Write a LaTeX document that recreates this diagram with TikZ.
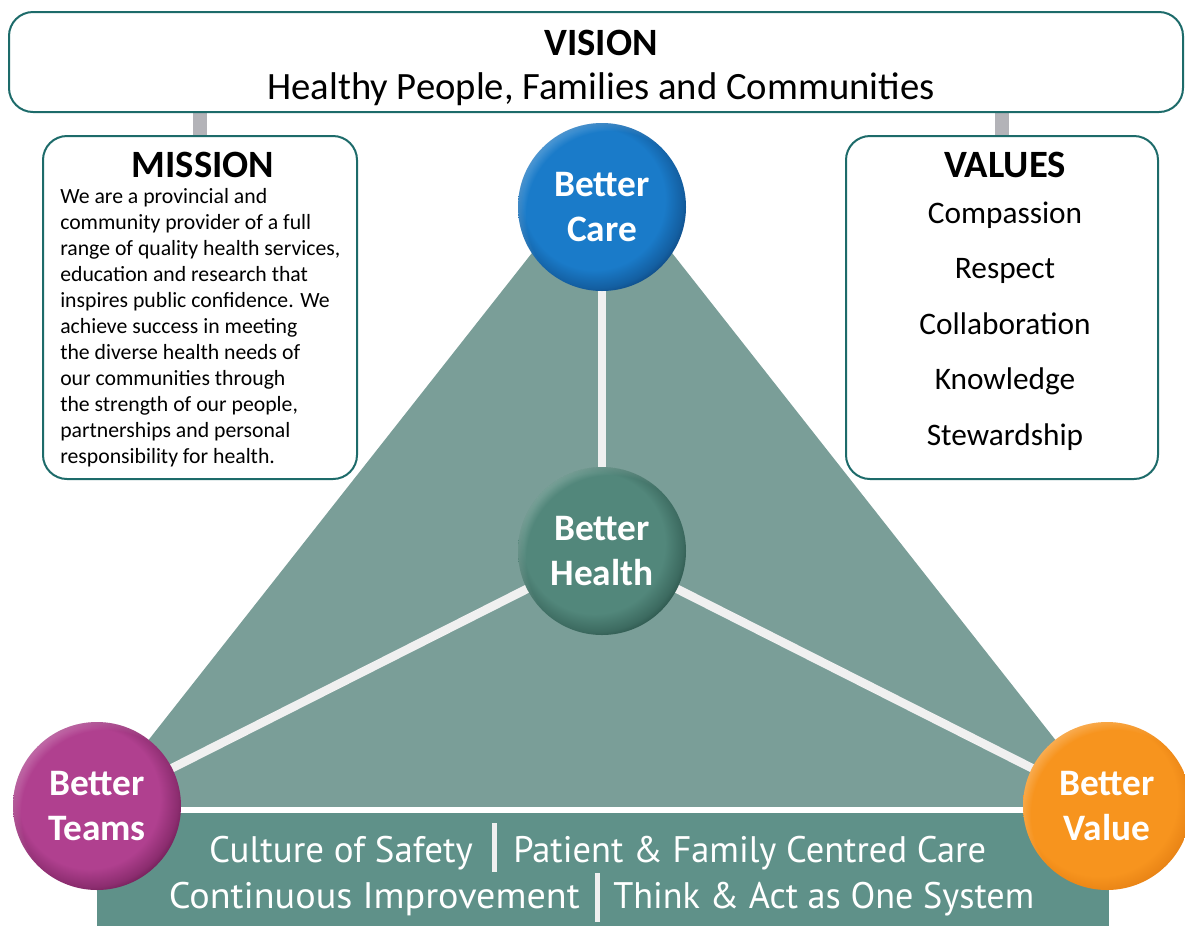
\documentclass[tikz,border=0pt]{standalone}
\usepackage{fontspec}
\setmainfont{Carlito}
\newfontfamily\bandfont{PT Sans}
\usetikzlibrary{fadings,backgrounds}
\definecolor{boxline}{HTML}{1D6B6A}
\definecolor{tri}{HTML}{7A9E98}
\definecolor{band}{HTML}{5F9189}
\definecolor{stub}{HTML}{B3B3B8}
\definecolor{spoke}{HTML}{F0F0F0}
\definecolor{careA}{HTML}{1A7BC9}
\definecolor{careD}{HTML}{0A3566}
\definecolor{healthA}{HTML}{52877B}
\definecolor{healthD}{HTML}{1C4038}
\definecolor{teamsA}{HTML}{B0408F}
\definecolor{teamsD}{HTML}{55103F}
\definecolor{valueA}{HTML}{F7941E}
\definecolor{valueD}{HTML}{E07A10}
\pgfdeclareradialshading{careS}{\pgfpoint{-4bp}{4bp}}{color(0bp)=(careA); color(21bp)=(careA); color(26bp)=(careA!60!careD); color(30bp)=(careD); color(50bp)=(careD)}
\pgfdeclareradialshading{healthS}{\pgfpoint{-4bp}{4bp}}{color(0bp)=(healthA); color(21bp)=(healthA); color(26bp)=(healthA!60!healthD); color(30bp)=(healthD); color(50bp)=(healthD)}
\pgfdeclareradialshading{teamsS}{\pgfpoint{-4bp}{4bp}}{color(0bp)=(teamsA); color(21bp)=(teamsA); color(26bp)=(teamsA!60!teamsD); color(30bp)=(teamsD); color(50bp)=(teamsD)}
\pgfdeclareradialshading{valueS}{\pgfpoint{-4bp}{4bp}}{color(0bp)=(valueA); color(23bp)=(valueA); color(30bp)=(valueD); color(50bp)=(valueD)}
\pgfdeclareradialshading{hlS}{\pgfpoint{5bp}{-5bp}}{color(0bp)=(black); color(25bp)=(black); color(31bp)=(black!55); color(50bp)=(black!55)}
\pgfdeclarefading{hlF}{\pgfuseshading{hlS}}
\begin{document}
\begin{tikzpicture}[x=0.75pt,y=-0.75pt,
  infobox/.style={draw=boxline, line width=1.5pt, fill=white, rounded corners=18pt, inner sep=0pt},
  stubline/.style={draw=stub, line width=10.5pt},
  spokeline/.style={draw=spoke, line width=6.5pt},
  ball/.style={circle, minimum size=126pt, inner sep=0pt, text=white, align=center,
    font=\bfseries\fontsize{28}{33.75}\selectfont},
  hilite/.style={fill=white, path fading=hlF, fit fading=true},
  headtext/.style={anchor=base, font=\bfseries\fontsize{29}{33}\selectfont},
  misstext/.style={anchor=base west, inner sep=0pt, font=\fontsize{16.3}{19.5}\selectfont},
  valtext/.style={anchor=base, inner sep=0pt, font=\fontsize{23.5}{27}\selectfont},
  bandtext/.style={inner sep=0pt, text=white, font=\bandfont\fontsize{27.7}{32}\selectfont},
  sepbar/.style={fill=spoke, inner sep=0pt, minimum width=3.75pt, minimum height=36.75pt}
]
\useasboundingbox (0,0) rectangle (1185,926);
% boxes
\node[infobox, minimum width=880.5pt, minimum height=75pt] (vision) at (596,62) {};
\node[infobox, minimum width=235.5pt, minimum height=257.25pt] (mission) at (200,307.5) {};
\node[infobox, minimum width=234pt, minimum height=257.25pt] (values) at (1002,307.5) {};
% vision text
\node[headtext] (vtitle) at (601,55) {VISION};
\node[anchor=base, font=\fontsize{29}{33}\selectfont] (vsub) at (601,99) {Healthy People, Families and Communities};
% mission text
\node[headtext] (mtitle) at (203,177) {MISSION};
\foreach \t [count=\i] in {We are a provincial and, community provider of a full, {range of quality health services,}, education and research that, inspires public confidence. We, achieve success in meeting, the diverse health needs of, our communities through, {the strength of our people,}, partnerships and personal, responsibility for health.}
  \node[misstext] (m\i) at (60,{203+26*(\i-1)}) {\t};
% values text
\node[headtext] (valtitle) at (1005,177) {VALUES};
\foreach \t [count=\i] in {Compassion, Respect, Collaboration, Knowledge, Stewardship}
  \node[valtext] (v\i) at (1005,{223+55.5*(\i-1)}) {\t};
% circles
\node[ball, shading=careS] (care) at (602,207) {Better\\Care};
\node[ball, shading=healthS] (health) at (602,551) {Better\\Health};
\node[ball, shading=teamsS] (teams) at (97,806) {Better\\Teams};
\node[ball, shading=valueS] (value) at (1107,806) {Better\\Value};
\foreach \c in {care,health,teams,value}
  \fill[hilite] (\c.center) circle[radius=63pt];
% band text
\node[bandtext, anchor=base east] (b1) at (473,862) {Culture of Safety};
\node[sepbar] (s1) at (494,847.5) {};
\node[bandtext, anchor=base west] (b2) at (513,862) {\scalebox{0.987}[1]{Patient \& Family Centred Care}};
\node[bandtext, anchor=base east] (b3) at (580,908) {\scalebox{1.033}[1]{Continuous Improvement}};
\node[sepbar] (s2) at (597,897.5) {};
\node[bandtext, anchor=base west] (b4) at (613,908) {\scalebox{0.98}[1]{Think \& Act as One System}};
% background
\begin{scope}[on background layer]
  \fill[tri] (602,164) -- (95,808) -- (1109,808) -- cycle;
  \fill[band] (97,813) rectangle (1109,926);
  \draw[draw=white, line width=4.5pt] ([yshift=-3pt]teams.center) -- ([yshift=-3pt]value.center);
  \draw[spokeline] (care.center) -- (health.center);
  \draw[spokeline] (health.center) -- (teams.center);
  \draw[spokeline] (health.center) -- (value.center);
  \draw[stubline] (mission.north) -- (mission.north |- vision.south);
  \draw[stubline] (values.north) -- (values.north |- vision.south);
\end{scope}
\end{tikzpicture}
\end{document}
